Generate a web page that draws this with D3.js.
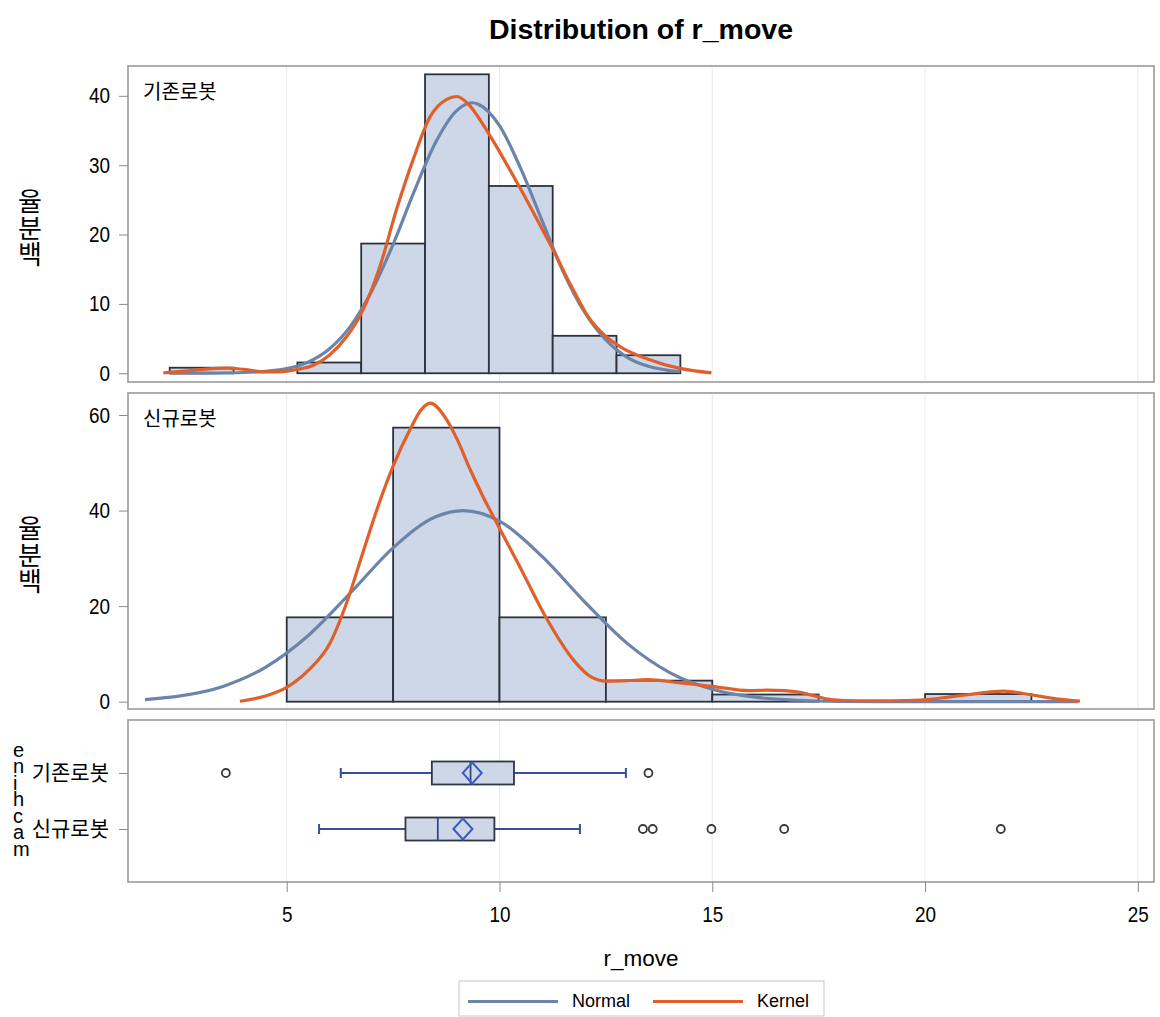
<!DOCTYPE html>
<html><head><meta charset="utf-8">
<script src="https://cdn.jsdelivr.net/npm/d3@7"></script>
<style>body{margin:0;background:#fff}</style>
</head><body>
<svg id="c" width="1160" height="1017"></svg>
<script>
// ---------------- data ----------------
const groups = ["기존로봇", "신규로봇"];
const xTicks = [5, 10, 15, 20, 25];
const yTicksExisting = [0, 10, 20, 30, 40];
const yTicksNew = [0, 20, 40, 60];

// histograms (percent)
const binEdgesExisting = [2.25, 3.75, 5.25, 6.75, 8.25, 9.75, 11.25, 12.75, 14.25];
const pctExisting = [0.8, 0, 1.55, 18.7, 43.1, 27.0, 5.4, 2.6];
const binEdgesNew = [5, 7.5, 10, 12.5, 15, 17.5, 20, 22.5];
const pctNew = [17.65, 57.35, 17.65, 4.41, 1.5, 0, 1.6];

// fitted curves
const normalExistingX = [2.25, 3.0, 4.0, 5.0, 5.5, 6.0, 6.5, 7.0, 7.5, 8.0, 8.5, 9.0, 9.36, 9.5, 10.0, 10.5, 11.0, 11.5, 12.0, 12.5, 13.0, 13.5, 14.0, 14.25];
const normalExistingY = [0.0, 0.02, 0.11, 0.67, 1.6, 3.5, 6.8, 11.9, 18.6, 26.3, 33.3, 37.9, 39.0, 38.8, 35.7, 29.5, 22.0, 14.6, 8.8, 4.8, 2.3, 1.0, 0.39, 0.24];
const kernelExistingX = [2.1, 2.6, 3.1, 3.6, 4.0, 4.5, 4.84, 5.2, 5.63, 6.0, 6.41, 6.75, 7.19, 7.58, 7.97, 8.37, 8.76, 9.0, 9.3, 9.6, 9.9, 10.2, 10.6, 11.0, 11.3, 11.7, 12.1, 12.5, 12.9, 13.46, 14.24, 14.98];
const kernelExistingY = [0.05, 0.3, 0.6, 0.75, 0.55, 0.2, 0.2, 0.5, 1.15, 2.6, 5.3, 8.6, 15.4, 23.6, 30.8, 37.0, 39.5, 39.9, 38.6, 36.0, 33.0, 29.8, 25.4, 20.8, 17.3, 12.4, 8.0, 5.3, 3.6, 2.1, 0.7, 0.05];
const normalNewX = [1.67, 2.5, 3.5, 4.5, 5.5, 6.5, 7.5, 8.5, 9.15, 10.0, 11.0, 12.0, 13.0, 14.0, 15.0, 16.0, 17.0, 18.0, 19.0, 20.5, 22.0, 23.6];
const normalNewY = [0.45, 1.2, 3.2, 7.2, 13.8, 22.8, 32.2, 38.7, 40.0, 37.8, 30.4, 20.9, 12.2, 6.1, 2.6, 0.94, 0.3, 0.07, 0.01, 0, 0, 0];
const kernelNewX = [3.9, 4.5, 5.0, 5.5, 6.02, 6.4, 6.8, 7.15, 7.5, 7.9, 8.15, 8.37, 8.76, 9.0, 9.3, 9.62, 10.0, 10.48, 11.1, 11.73, 12.13, 12.52, 13.0, 13.46, 14.2, 15.0, 15.88, 16.28, 16.7, 17.06, 17.45, 17.84, 18.4, 18.94, 19.5, 19.96, 20.5, 21.05, 21.5, 21.84, 22.1, 22.46, 23.09, 23.64];
const kernelNewY = [0.1, 1.2, 3.0, 6.5, 12.3, 20.5, 31.5, 41.0, 49.3, 57.0, 61.0, 62.5, 59.0, 55.0, 48.8, 42.8, 36.3, 28.2, 17.5, 8.8, 5.3, 4.3, 4.4, 4.6, 4.0, 3.2, 2.3, 2.4, 2.3, 1.95, 1.1, 0.4, 0.2, 0.2, 0.25, 0.4, 0.9, 1.5, 2.0, 2.2, 2.0, 1.5, 0.6, 0.1];

// box plot statistics (per group, same order as groups)
const boxMin = [6.27, 5.76];
const boxQ1 = [8.41, 7.79];
const boxMedian = [9.32, 8.55];
const boxMean = [9.36, 9.14];
const boxQ3 = [10.34, 9.88];
const boxMax = [12.97, 11.89];
const outliersExisting = [3.57, 13.5];
const outliersNew = [13.37, 13.6, 14.98, 16.69, 21.78];

// ---------------- style ----------------
const FILL = "#cdd7e7", BAR_STROKE = "#2e323c", NORMAL = "#6a84aa", KERNEL = "#e0602c";
const FRAME = "#9a9a9a", GRID = "#ebebeb";
const LFONT = "'Liberation Sans',Arial,sans-serif";
const KFONT = "'Noto Sans CJK KR','Noto Sans',sans-serif";
const SX = 0.86; // horizontal squeeze of tick labels

const svg = d3.select("#c");
const L = 128, R = 1154;
const panels = [
  {top: 66, bottom: 382, ydom: [-1.26, 44.3], ticks: yTicksExisting, edges: binEdgesExisting, pct: pctExisting,
   nx: normalExistingX, ny: normalExistingY, kx: kernelExistingX, ky: kernelExistingY, label: groups[0]},
  {top: 393, bottom: 709, ydom: [-1.53, 64.6], ticks: yTicksNew, edges: binEdgesNew, pct: pctNew,
   nx: normalNewX, ny: normalNewY, kx: kernelNewX, ky: kernelNewY, label: groups[1]}
];
const boxTop = 720, boxBottom = 882;

const x = d3.scaleLinear().domain([1.27, 25.38]).range([L, R]);

// title
svg.append("text").attr("x", (L + R) / 2).attr("y", 39).attr("text-anchor", "middle")
  .attr("font-family", LFONT).attr("font-weight", "bold")
  .attr("font-size", 28.5).attr("fill", "#000").text("Distribution of r_move");

function grid(top, bottom) {
  svg.append("g").selectAll("line").data(xTicks).join("line")
    .attr("x1", d => x(d)).attr("x2", d => x(d)).attr("y1", top).attr("y2", bottom)
    .attr("stroke", GRID).attr("stroke-width", 1);
}

// vertical label: glyphs upright, stacked bottom-to-top (one text element)
function verticalLabel(text, left, cy, fs, pitch, up, down, font) {
  const n = Array.from(text).length;
  const x0 = -((n - 1) * pitch + up - down) / 2;
  svg.append("text")
    .attr("transform", `translate(${left},${cy}) rotate(-90)`)
    .attr("x", d3.range(n).map(i => x0 + i * pitch).join(" "))
    .attr("y", 0)
    .attr("rotate", "90")
    .attr("font-family", font).attr("font-size", fs).attr("fill", "#000")
    .text(text);
}

function styleTicks(sel) {
  sel.selectAll("text").each(function () {
    const t = d3.select(this);
    const xv = +t.attr("x") || 0;
    t.attr("x", xv / SX).attr("transform", `scale(${SX},1)`);
  }).attr("font-family", LFONT).attr("font-size", 22).attr("fill", "#000");
}

panels.forEach(p => {
  const y = d3.scaleLinear().domain(p.ydom).range([p.bottom, p.top]);
  grid(p.top, p.bottom);
  const bins = p.pct.map((v, i) => ({x0: p.edges[i], x1: p.edges[i + 1], v}));
  svg.append("g").selectAll("rect").data(bins.filter(b => b.v > 0)).join("rect")
    .attr("x", d => x(d.x0)).attr("width", d => x(d.x1) - x(d.x0))
    .attr("y", d => y(d.v)).attr("height", d => y(0) - y(d.v))
    .attr("fill", FILL).attr("stroke", BAR_STROKE).attr("stroke-width", 1.8);
  const line = d3.line().x(d => x(d[0])).y(d => y(d[1])).curve(d3.curveMonotoneX);
  svg.append("path").datum(p.nx.map((v, i) => [v, p.ny[i]])).attr("d", line)
    .attr("fill", "none").attr("stroke", NORMAL).attr("stroke-width", 3.2);
  svg.append("path").datum(p.kx.map((v, i) => [v, p.ky[i]])).attr("d", line)
    .attr("fill", "none").attr("stroke", KERNEL).attr("stroke-width", 3.2);
  svg.append("rect").attr("x", L).attr("y", p.top).attr("width", R - L).attr("height", p.bottom - p.top)
    .attr("fill", "none").attr("stroke", FRAME).attr("stroke-width", 1.6);
  const ax = svg.append("g").attr("transform", `translate(${L},0)`)
    .call(d3.axisLeft(y).tickValues(p.ticks).tickSize(9).tickPadding(9));
  ax.select(".domain").remove();
  ax.selectAll("line").attr("stroke", "#8a8a8a");
  styleTicks(ax);
  svg.append("text").attr("x", 143).attr("y", p.top + 24).attr("dominant-baseline", "central")
    .attr("font-family", KFONT).attr("font-size", 20).attr("fill", "#000").text(p.label);
  verticalLabel("백분율", 18, (p.top + p.bottom) / 2 + 3.5, 26, 26.5, 0.84 * 26, 0.06 * 26, KFONT);
});

// ---------- box plot panel ----------
grid(boxTop, boxBottom);
const yb = d3.scalePoint().domain(groups).range([boxTop, boxBottom]).padding(0.946);
const outliers = [outliersExisting, outliersNew];
const BH = 11.5;
const WHISK = "#3a4f96";
groups.forEach((g, i) => {
  const cy = yb(g);
  const gg = svg.append("g");
  gg.append("line").attr("x1", x(boxMin[i])).attr("x2", x(boxQ1[i])).attr("y1", cy).attr("y2", cy)
    .attr("stroke", WHISK).attr("stroke-width", 2);
  gg.append("line").attr("x1", x(boxQ3[i])).attr("x2", x(boxMax[i])).attr("y1", cy).attr("y2", cy)
    .attr("stroke", WHISK).attr("stroke-width", 2);
  [boxMin[i], boxMax[i]].forEach(v => gg.append("line").attr("x1", x(v)).attr("x2", x(v))
    .attr("y1", cy - 5).attr("y2", cy + 5).attr("stroke", WHISK).attr("stroke-width", 2));
  gg.append("rect").attr("x", x(boxQ1[i])).attr("width", x(boxQ3[i]) - x(boxQ1[i]))
    .attr("y", cy - BH).attr("height", 2 * BH).attr("fill", FILL).attr("stroke", "#2f3646").attr("stroke-width", 1.8);
  gg.append("line").attr("x1", x(boxMedian[i])).attr("x2", x(boxMedian[i])).attr("y1", cy - BH).attr("y2", cy + BH)
    .attr("stroke", "#344a8a").attr("stroke-width", 1.8);
  const mx = x(boxMean[i]);
  gg.append("path").attr("d", `M${mx - 9.5},${cy} L${mx},${cy - 10.5} L${mx + 9.5},${cy} L${mx},${cy + 10.5} Z`)
    .attr("fill", "none").attr("stroke", "#3b5cc0").attr("stroke-width", 2);
  gg.selectAll("circle").data(outliers[i]).join("circle")
    .attr("cx", d => x(d)).attr("cy", cy).attr("r", 4)
    .attr("fill", "#fff").attr("stroke", "#3a3a3a").attr("stroke-width", 1.8);
});
svg.append("rect").attr("x", L).attr("y", boxTop).attr("width", R - L).attr("height", boxBottom - boxTop)
  .attr("fill", "none").attr("stroke", FRAME).attr("stroke-width", 1.6);
const cax = svg.append("g").attr("transform", `translate(${L},0)`)
  .call(d3.axisLeft(yb).tickSize(9).tickPadding(10));
cax.select(".domain").remove();
cax.selectAll("line").attr("stroke", "#8a8a8a");
cax.selectAll("text").attr("font-family", KFONT).attr("font-size", 21).attr("fill", "#000");
verticalLabel("machine", 13, (boxTop + boxBottom) / 2, 20, 16.5, 0.52 * 20, 0, LFONT);

// x axis
const xa = svg.append("g").attr("transform", `translate(0,${boxBottom})`)
  .call(d3.axisBottom(x).tickValues(xTicks).tickSize(10).tickPadding(14));
xa.select(".domain").remove();
xa.selectAll("line").attr("stroke", "#8a8a8a");
styleTicks(xa);
svg.append("text").attr("x", (L + R) / 2).attr("y", 966).attr("text-anchor", "middle")
  .attr("font-family", LFONT).attr("font-size", 22.5).attr("fill", "#000").text("r_move");

// legend
const legend = [{name: "Normal", color: NORMAL, x0: 468}, {name: "Kernel", color: KERNEL, x0: 653}];
svg.append("rect").attr("x", 459).attr("y", 981).attr("width", 365).attr("height", 35)
  .attr("fill", "#fff").attr("stroke", "#cfcfcf").attr("stroke-width", 1.2);
const lg = svg.append("g").selectAll("g").data(legend).join("g");
lg.append("line").attr("x1", d => d.x0).attr("x2", d => d.x0 + 90).attr("y1", 1001.5).attr("y2", 1001.5)
  .attr("stroke", d => d.color).attr("stroke-width", 3.2);
lg.append("text").attr("x", d => d.x0 + 104).attr("y", 1007)
  .attr("font-family", LFONT).attr("font-size", 18).attr("fill", "#000")
  .text(d => d.name);
</script>
</body></html>
